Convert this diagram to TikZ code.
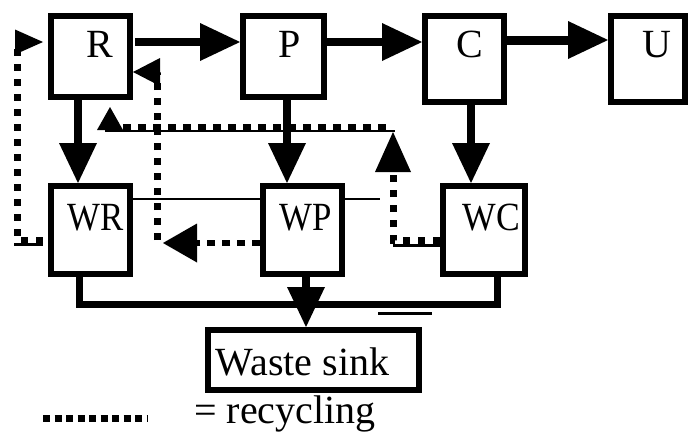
\documentclass[tikz,border=0pt]{standalone}
\usepackage{fontspec}
\setmainfont{Liberation Serif}
\usetikzlibrary{arrows.meta}
\tikzset{
  box/.style={draw, line width=6pt, inner sep=0pt},
  lbl/.style={inner sep=0pt, anchor=base, font=\fontsize{40}{48}\selectfont},
  flow/.style={line width=8pt, -{Triangle[length=40pt,width=38pt,line width=0pt]}},
  collect/.style={line width=7pt, line join=miter},
  thinline/.style={line width=2.5pt},
  rec/.style={line width=7pt, dash pattern=on 7pt off 8pt},
  rech/.style={line width=6pt, dash pattern=on 8pt off 7pt},
}
\begin{document}
\begin{tikzpicture}[x=1pt,y=-1pt]
\useasboundingbox (0,0) rectangle (689,434);
% boxes
\node[box, minimum width=79pt, minimum height=81pt] (R) at (90.5,56.5) {};
\node[box, minimum width=81pt, minimum height=81pt] (P) at (283.5,56.5) {};
\node[box, minimum width=79pt, minimum height=86pt] (C) at (464.5,59) {};
\node[box, minimum width=74pt, minimum height=86pt] (U) at (648,59) {};
\node[box, minimum width=79pt, minimum height=88pt] (WR) at (90.5,230) {};
\node[box, minimum width=79pt, minimum height=88pt] (WP) at (302.5,230) {};
\node[box, minimum width=82pt, minimum height=88pt] (WC) at (484,230) {};
\node[box, minimum width=211pt, minimum height=60pt] (S) at (313.5,360) {};
% labels
\node[lbl] (Rt) at (100,57) {R};
\node[lbl] (Pt) at (290,57) {P};
\node[lbl] (Ct) at (470,57) {C};
\node[lbl] (Ut) at (657,57) {U};
\node[lbl] (WRt) at (96,230) {\scalebox{0.87}[1]{WR}};
\node[lbl] (WPt) at (306,230) {\scalebox{0.87}[1]{WP}};
\node[lbl] (WCt) at (491.5,230) {\scalebox{0.89}[1]{WC}};
\node[lbl] (St) at (302.5,375) {Waste sink};
\node[lbl, anchor=base west] (Lt) at (194,423) {= recycling};
% main flows
\draw[flow] ([xshift=2pt,yshift=14.5pt]R.east) -- ([yshift=14.5pt]P.west);
\draw[flow] ([yshift=14.5pt]P.east) -- ([yshift=17pt]C.west);
\draw[flow, line width=9pt] ([yshift=19pt]C.east) -- ([yshift=19pt]U.west);
\draw[flow] ([xshift=-12.5pt]R.south) -- ([xshift=-12.5pt]WR.north);
\draw[flow] ([xshift=3.5pt]P.south) -- ([xshift=-15.5pt]WP.north);
\draw[flow] ([xshift=6.5pt]C.south) -- ([xshift=-13pt]WC.north);
\draw[flow] ([xshift=3.5pt]WP.south) -- ([xshift=-7.5pt]S.north);
% collection bus
\coordinate (bus) at (300,304);
\draw[collect] ([xshift=-11.5pt]WR.south) |- (bus) -| ([xshift=13.5pt]WC.south);
\coordinate (g1) at (378,313.5);
\coordinate (g2) at (432,313.5);
\draw[line width=3pt] (g1) -- (g2);
% thin lines
\draw[thinline] ([yshift=31pt]WR.east) -- ([yshift=31pt]WP.west);
\coordinate (t1) at (380,199);
\draw[thinline] ([yshift=31pt]WP.east) -- (t1);
\coordinate (t2) at (393,245.5);
\draw[thinline] (t2) -- ([yshift=-15.5pt]WC.west);
\coordinate (t3) at (105,131);
\coordinate (t4) at (395,131);
\draw[thinline] (t3) -- (t4);
\coordinate (t5) at (14,244.5);
\draw[thinline] (t5) -- ([xshift=-5pt,yshift=-14.5pt]WR.west);
% recycling A: WR -> R (left loop)
\coordinate (a1) at (17.5,240);
\coordinate (a2) at (17.5,42);
\draw[rec, -{Triangle[length=28pt,width=25pt,line width=0pt]}]
  ([xshift=-5pt,yshift=-10pt]WR.west) -- (a1) -- (a2) -- ([xshift=-5pt,yshift=14.5pt]R.west);
% recycling B: WP -> WR region -> R
\coordinate (b1) at (163,243);
\draw[rech, -{Triangle[length=34pt,width=39pt,line width=0pt]}] ([yshift=-13pt]WP.west) -- (b1);
\coordinate (b2) at (157,240);
\coordinate (b3) at (157,72);
\draw[rec, -{Triangle[length=27pt,width=28pt,line width=0pt]}] (b2) -- (b3) -- ([yshift=-15.5pt]R.east);
% recycling C: WC -> up
\coordinate (c1) at (393,240);
\coordinate (c2) at (393,132);
\draw[rec, -{Triangle[length=40pt,width=36pt,line width=0pt]}] ([yshift=-10pt]WC.west) -- (c1) -- (c2);
% recycling D: horizontal to R
\coordinate (d1) at (386,126.5);
\coordinate (d2) at (110,126.5);
\draw[rech, -{Triangle[length=23pt,width=26pt,line width=0pt]}] (d1) -- (d2) -- ([xshift=19.5pt,yshift=-7pt]R.south);
% legend
\coordinate (l1) at (43,418);
\coordinate (l2) at (147,418);
\draw[line width=7pt, dash pattern=on 7pt off 4.5pt] (l1) -- (l2);
\end{tikzpicture}
\end{document}
